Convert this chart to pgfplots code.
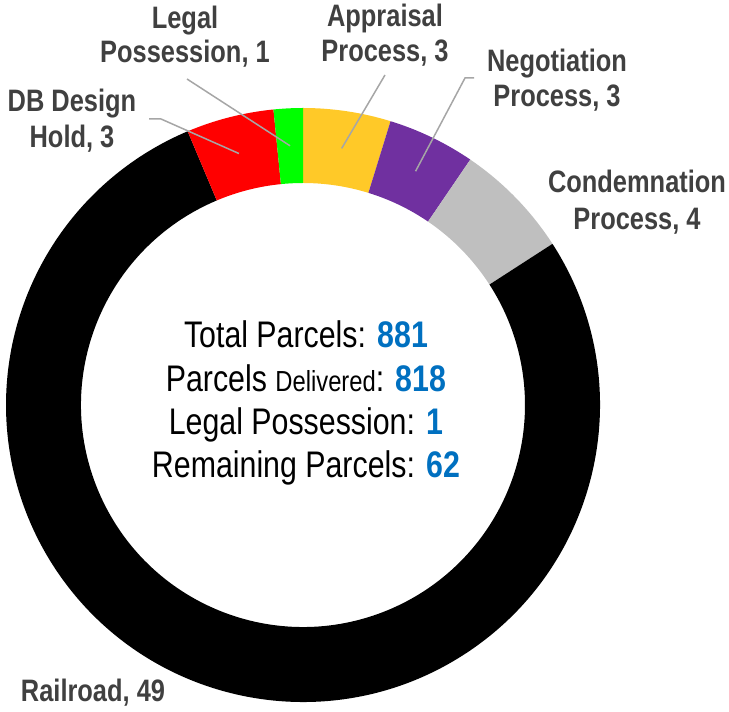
\documentclass[border=0pt]{standalone}
\usepackage{fontspec}
\setmainfont{Liberation Sans}[FakeStretch=0.82]
\usepackage{pgfplots}
\usepackage{pgfplotstable}
\pgfplotsset{compat=1.18}

\definecolor{sl0}{HTML}{FFC928}
\definecolor{sl1}{HTML}{7030A0}
\definecolor{sl2}{HTML}{BFBFBF}
\definecolor{sl3}{HTML}{000000}
\definecolor{sl4}{HTML}{FF0000}
\definecolor{sl5}{HTML}{00FF00}
\definecolor{lab}{HTML}{404040}
\definecolor{lead}{HTML}{A6A6A6}
\definecolor{num}{HTML}{0070C0}

% slices clockwise from 12 o'clock; ex/lx/ly = leader line start (elbow)
\pgfplotstableread{
name         value lead ex  lx  ly
Appraisal    3     1    385 385 637
Negotiation  3     1    474 465 634
Condemnation 4     0    0   0   0
Railroad     49    0    0   0   0
DBDesign     3     1    149 161 593
Legal        1     1    187 187 633
}\parcels

\begin{document}
\begin{tikzpicture}
\pgfplotstablegetrowsof{\parcels}
\pgfmathtruncatemacro\nrows{\pgfplotsretval-1}
\def\total{0}
\pgfplotsforeachungrouped \k in {0,...,\nrows}{%
  \pgfplotstablegetelem{\k}{value}\of\parcels
  \pgfmathsetmacro\total{\total+\pgfplotsretval}}
\pgfmathsetmacro\degper{360/\total}
\def\cx{303}\def\cy{307}\def\Rout{297}\def\Rin{222}
\def\cum{0}
\begin{axis}[
  width=729pt, height=712pt, scale only axis,
  xmin=0, xmax=729, ymin=0, ymax=712,
  hide axis, clip=false,
]
\path (axis cs:0,0) rectangle (axis cs:729,712);
\pgfplotsforeachungrouped \k in {0,...,\nrows}{%
  \pgfplotstablegetelem{\k}{value}\of\parcels \let\val\pgfplotsretval
  \pgfmathsetmacro\aA{90-\degper*\cum}
  \pgfmathsetmacro\aB{90-\degper*(\cum+\val)}
  \pgfmathsetmacro\aM{(\aA+\aB)/2}
  \pgfmathsetmacro\xo{\cx+\Rout*cos(\aA)}
  \pgfmathsetmacro\yo{\cy+\Rout*sin(\aA)}
  \pgfmathsetmacro\xi{\cx+\Rin*cos(\aB)}
  \pgfmathsetmacro\yi{\cy+\Rin*sin(\aB)}
  % overlay: arc control points must not widen the page
  \edef\doslice{\noexpand\fill[sl\k, overlay] (axis cs:\xo,\yo)
    arc[start angle=\aA, end angle=\aB, radius=\Rout pt]
    -- (axis cs:\xi,\yi)
    arc[start angle=\aB, end angle=\aA, radius=\Rin pt] -- cycle;}
  \doslice
  \pgfplotstablegetelem{\k}{lead}\of\parcels
  \ifnum\pgfplotsretval=1
    \pgfplotstablegetelem{\k}{ex}\of\parcels \let\ex\pgfplotsretval
    \pgfplotstablegetelem{\k}{lx}\of\parcels \let\lx\pgfplotsretval
    \pgfplotstablegetelem{\k}{ly}\of\parcels \let\ly\pgfplotsretval
    \pgfmathsetmacro\xm{\cx+0.5*(\Rout+\Rin)*cos(\aM)}
    \pgfmathsetmacro\ym{\cy+0.5*(\Rout+\Rin)*sin(\aM)}
    \edef\dolead{\noexpand\draw[lead, line width=1.5pt]
      (axis cs:\ex,\ly) -- (axis cs:\lx,\ly) -- (axis cs:\xm,\ym);}
    \dolead
  \fi
  \pgfmathsetmacro\cum{\cum+\val}
}

% slice labels
\begin{scope}[every node/.style={anchor=base, inner sep=0pt, text=lab,
    font=\fontsize{31}{35}\selectfont\bfseries}]
\node at (axis cs:72,600) {DB Design};
\node at (axis cs:72,564) {Hold, 3};
\node at (axis cs:185,683) {Legal};
\node at (axis cs:185,649) {Possession, 1};
\node at (axis cs:385,685) {Appraisal};
\node at (axis cs:385,650) {Process, 3};
\node at (axis cs:557,640) {Negotiation};
\node at (axis cs:557,605) {Process, 3};
\node at (axis cs:637,519) {Condemnation};
\node at (axis cs:637,482) {Process, 4};
\node at (axis cs:93,10) {Railroad, 49};
\end{scope}

% centre text
\begin{scope}[every node/.style={anchor=base, inner sep=0pt,
    font=\fontsize{37}{43}\selectfont}]
\node at (axis cs:306,364) {Total Parcels: \textbf{\color{num}881}};
\node at (axis cs:306,320) {Parcels {\fontsize{29}{33}\selectfont Delivered}: \textbf{\color{num}818}};
\node at (axis cs:306,277) {Legal Possession: \textbf{\color{num}1}};
\node at (axis cs:306,234) {Remaining Parcels: \textbf{\color{num}62}};
\end{scope}
\end{axis}
\end{tikzpicture}
\end{document}
